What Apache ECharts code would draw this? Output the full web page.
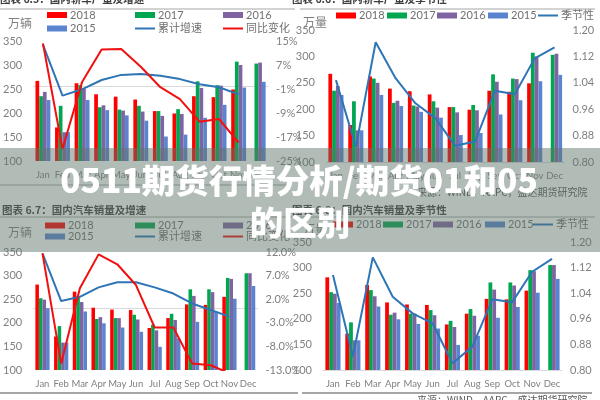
<!DOCTYPE html>
<html><head><meta charset="utf-8">
<script src="https://cdn.jsdelivr.net/npm/echarts@6/dist/echarts.min.js"></script>
<style>html,body{margin:0;padding:0;background:#fff}#c{width:600px;height:400px}</style>
</head><body><div id="c"></div>
<script>
// ---- data ----
const months = ['Jan','Feb','Mar','Apr','May','Jun','Jul','Aug','Sep','Oct','Nov','Dec'];
const years = ['2018','2017','2016','2015'];
// 轿车产量 (万辆)
const prod2018 = [267,170,262,239,234,228,204,199,235,233,249,null];
const prod2017 = [235,215,258,212,207,215,204,208,266,258,307,303];
const prod2016 = [244,160,250,216,205,203,194,198,252,257,300,305];
const prod2015 = [227,160,227,206,195,184,151,155,190,217,253,265];
const prodCum = [13.8,-3.2,-1.1,2.0,3.7,4.0,3.4,2.3,0.6,-0.4,-2.8,null];
const prodYoY = [14.2,-21,1.3,12.2,12.3,6.4,-0.4,-4.4,-11.9,-11,-18.9,null];
const prodSeason = [1.048,0.846,1.163,1.054,0.978,0.933,0.849,0.862,1.016,1.005,1.114,1.147];
// 汽车销量 (万辆)
const sales2018 = [281,171,266,232,228,227,189,210,239,238,255,null];
const sales2017 = [252,193,256,208,210,217,196,219,271,271,295,305];
const sales2016 = [249,158,244,212,210,207,184,206,257,265,293,305];
const sales2015 = [231,158,224,199,190,181,149,167,202,223,251,278];
const salesCum = [11.7,1.6,2.5,4.5,5.6,5.6,4.5,3.2,1.1,-0.3,-1.7,null];
const salesYoY = [11.7,-11.6,4.3,11.5,9.4,5.0,-4.0,-4.0,-11.6,-12.0,-13.7,null];
const salesSeason = [1.097,0.842,1.152,1.029,0.977,0.946,0.821,0.873,1.021,1.012,1.107,1.147];
// axis ranges [min,max,interval]
const volAxis = [100,350,50];
const prodPctAxis = [-25,15,8];
const salesPctAxis = [-13,12,5];
const seasonAxis = [0.80,1.20,0.08];

const titles = ['图表 6.5：国内轿车产量及增速','图表 6.6：国内轿车产量及季节性','图表 6.7：国内汽车销量及增速','图表 6.8：国内汽车销量及季节性'];
const source = '来源：WIND，AAPC，盛达期货研究院';
const headline1 = '0511期货行情分析/期货01和05';
const headline2 = '的区别';

// ---- styles ----
const C = {'2018':'#FF0000','2017':'#00A650','2016':'#8064A2','2015':'#5B84D0'};
const blueLine = '#2E75B6', redLine = '#F01010';
const labelColor = '#808080';
const FONT = 'Lato, "Noto Sans CJK SC", sans-serif';
const CJK = '"Noto Sans CJK SC", sans-serif';

const grids = [
  {left:31, top:41, width:237, height:120},
  {left:326, top:30, width:238.5, height:132},
  {left:29.5, top:252, width:228, height:118},
  {left:323, top:242, width:239, height:128}
];
const barSets = [
  [prod2018,prod2017,prod2016,prod2015],
  [prod2018,prod2017,prod2016,prod2015],
  [sales2018,sales2017,sales2016,sales2015],
  [sales2018,sales2017,sales2016,sales2015]
];
const rightAxes = [prodPctAxis, seasonAxis, salesPctAxis, seasonAxis];
const rightFmt = [
  v => Math.round(v) + '%',
  v => v.toFixed(2),
  v => v.toFixed(1) + '%',
  v => v.toFixed(2)
];

const xAxis = [], yAxis = [], series = [];
grids.forEach((g, i) => {
  xAxis.push({type:'category', gridIndex:i, data:months,
    axisTick:{show:false}, axisLine:{show:true, lineStyle:{color:'#d9d9d9'}},
    axisLabel:{color:labelColor, fontSize:9.5, fontFamily:FONT, margin:9, interval:0, hideOverlap:false}});
  yAxis.push({type:'value', gridIndex:i, min:volAxis[0], max:volAxis[1], interval:volAxis[2],
    splitLine:{show:false}, axisLine:{show:false}, axisTick:{show:false},
    axisLabel:{color:labelColor, fontSize:11, fontFamily:FONT, margin:11}});
  const ra = rightAxes[i];
  yAxis.push({type:'value', gridIndex:i, position:'right', min:ra[0], max:ra[1], interval:ra[2],
    splitLine:{show:false}, axisLine:{show:false}, axisTick:{show:false},
    axisLabel:{color:labelColor, fontSize:11, fontFamily:FONT, margin:8, formatter:rightFmt[i]}});
  years.forEach((y, k) => {
    series.push({type:'bar', name:y, xAxisIndex:i, yAxisIndex:2*i, data:barSets[i][k],
      barGap:'0%', barCategoryGap:'24%', itemStyle:{color:C[y]}, silent:true, z:2});
  });
});
const lineDefs = [
  [0,'累计增速',prodCum,blueLine],[0,'同比变化',prodYoY,redLine],
  [1,'季节性',prodSeason,blueLine],
  [2,'累计增速',salesCum,blueLine],[2,'同比变化',salesYoY,redLine],
  [3,'季节性',salesSeason,blueLine]
];
lineDefs.forEach(([i,name,data,color]) => {
  series.push({type:'line', name, xAxisIndex:i, yAxisIndex:2*i+1, data, symbol:'none',
    lineStyle:{color, width:2}, itemStyle:{color}, silent:true, z:3, clip:true});
});

// ---- legends (one per item to keep exact layout) ----
const legends = [];
function leg(name, x, y, isLine){
  legends.push({data:[name], left:x, top:y-7, padding:0, selectedMode:false,
    icon:'rect', itemWidth:20, itemHeight:isLine?2:6, itemGap:0,
    textStyle:{color:'#707070', fontSize:11, fontFamily:FONT, padding:[0,0,0,-2]}});
}
// top-left
leg('2018',47,16.5); leg('2017',135,16.5); leg('2016',223,16.5);
leg('2015',47,30); leg('累计增速',135,30,true); leg('同比变化',223,30,true);
// top-right
leg('2018',336,17); leg('2017',387,17); leg('2016',437,17); leg('2015',488,17); leg('季节性',538,17,true);
// bottom-left
leg('2018',45,227); leg('2017',135,227); leg('2016',223,227);
leg('2015',45,238); leg('累计增速',135,238,true); leg('同比变化',223,238,true);
// bottom-right
leg('2018',333,226); leg('2017',383,226); leg('2016',433,226); leg('2015',485,226); leg('季节性',533,226,true);

// ---- decorations ----
function txt(text, x, y, font, fill, align, z){
  return {type:'text', x, y, z:z||10, silent:true,
    style:{text, font, fill, textAlign:align||'left', textVerticalAlign:'middle'}};
}
function hline(x1, x2, y, color, w){
  return {type:'line', silent:true, z:10, shape:{x1, y1:y, x2, y2:y}, style:{stroke:color, lineWidth:w}};
}
const titleFont = 'bold 10.5px ' + CJK;
const graphics = [
  txt(titles[0], 0, -1, titleFont, '#404040'),
  txt(titles[1], 292, -1, titleFont, '#404040'),
  hline(0, 295, 9, '#a6a6a6', 1),
  hline(300, 595, 9, '#a6a6a6', 1),
  txt('万辆', 8, 23, '12px ' + CJK, '#808080'),
  txt('万量', 303, 22, '12px ' + CJK, '#808080'),
  hline(0, 290, 185, '#a6a6a6', 1),
  txt(source, 417, 192, '10px ' + CJK, '#595959'),
  txt(titles[2], 2, 210, titleFont, '#404040'),
  txt(titles[3], 292, 210, titleFont, '#404040'),
  hline(0, 295, 217, '#a6a6a6', 1),
  hline(300, 595, 217, '#a6a6a6', 1),
  txt('万辆', 8, 232, '12px ' + CJK, '#808080'),
  txt('万量', 303, 229, '12px ' + CJK, '#808080'),
  hline(0, 298, 393, '#a6a6a6', 2),
  hline(302, 592, 393, '#a6a6a6', 2),
  txt(source, 417, 400, '10px ' + CJK, '#595959'),
  // overlay band
  {type:'rect', silent:true, z:100, shape:{x:0, y:148, width:600, height:104},
    style:{fill:'rgba(95,115,105,0.48)'}},
  txt(headline1, 299, 180, '900 33.5px ' + CJK, '#ffffff', 'center', 101),
  txt(headline2, 300, 222, '900 33.5px ' + CJK, '#ffffff', 'center', 101)
];

const chart = echarts.init(document.getElementById('c'), null, {renderer:'canvas'});
chart.setOption({
  animation:false,
  grid: grids,
  xAxis, yAxis, series,
  legend: legends,
  graphic: graphics
});
</script></body></html>
